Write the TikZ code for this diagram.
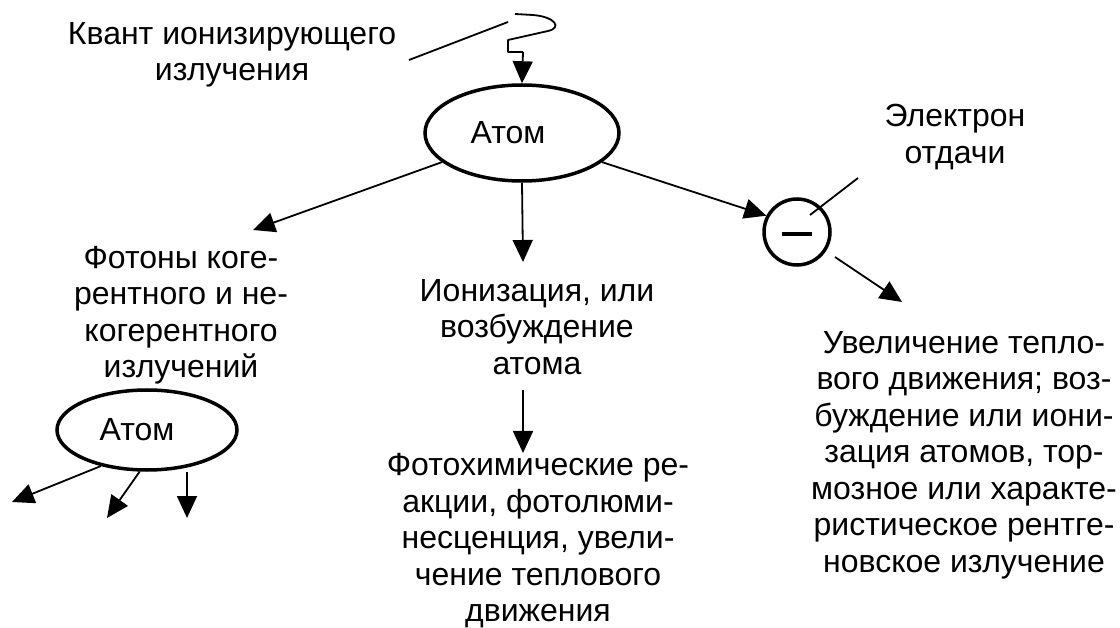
\documentclass[tikz,border=0pt]{standalone}
\usepackage{fontspec}
\setmainfont{Liberation Sans}
\usetikzlibrary{shapes.geometric,arrows.meta}
\begin{document}
\begin{tikzpicture}[x=1pt,y=-1pt,
  lbl/.style={align=center,inner sep=0pt,font=\fontsize{32}{36.5}\selectfont},
  atomnode/.style={ellipse,draw,line width=3.5pt,inner sep=0pt,font=\fontsize{32}{36.5}\selectfont},
  conn/.style={line width=1.8pt},
  arr/.style={line width=1.8pt,-{Triangle[length=22pt,width=20pt]}}]
\useasboundingbox (0,0) rectangle (1120,628);

% atoms and the recoil electron
\node[atomnode,minimum width=194pt,minimum height=96pt] (atom) at (522,133) {Атом\hspace*{28pt}};
\node[atomnode,minimum width=180pt,minimum height=80pt] (atom2) at (147,430) {Атом\hspace*{20pt}};
\node[circle,draw,line width=3.5pt,minimum size=66pt,inner sep=0pt] (el) at (797,232) {};

% texts
\node[lbl] (quant) at (232,55) {Квант ионизирующего\\излучения};
\node[lbl] (elout) at (955,137) {Электрон\\отдачи};
\node[lbl] (phot) at (181,315) {Фотоны коге-\\рентного и не-\\когерентного\\излучений};
\node[lbl] (ion) at (537,327) {Ионизация, или\\возбуждение\\атома};
\node[lbl] (chem) at (538,541) {Фотохимические ре-\\акции, фотолюми-\\несценция, увели-\\чение теплового\\движения};
\node[lbl] (heat) at (964,455) {Увеличение тепло-\\вого движения; воз-\\буждение или иони-\\зация атомов, тор-\\мозное или характе-\\ристическое рентге-\\новское излучение};

% minus sign of the electron
\draw[line width=4pt] ([xshift=-15pt,yshift=-2pt]el.center) -- ([xshift=15pt,yshift=-2pt]el.center);

% incoming quantum (wavy mark) and its pointer
\coordinate (qtop) at (515,14);
\coordinate (qbend) at (523,52);
\draw[conn,line join=round] (qtop) -- (533,15) .. controls (556,17) and (562,28) .. (548,31)
   -- (508,40) -- (508,52) -- (qbend);
\draw[arr] (qbend) -- (atom.north);
\coordinate (qline) at (409,60);
\draw[conn] (qline) -- (508,22);

% branches from the atom
\coordinate (tpA) at (253,230);
\coordinate (tpB) at (523,262);
\draw[arr] (atom.200) -- (tpA);
\draw[arr] (atom.south) -- (tpB);
\draw[arr] (atom.-20) -- (el.152);

% electron
\coordinate (elA) at (858,178);
\draw[conn] ([shift={(13pt,17pt)}]el.center) -- (elA);
\coordinate (elB) at (902,302);
\draw[arr] ([shift={(38pt,-25pt)}]el.center) -- (elB);

% ionisation consequences
\coordinate (ionB) at (523,390);
\coordinate (tpC) at (523,453);
\draw[arr] (ionB) -- (tpC);

% secondary atom
\coordinate (s1) at (12,502);
\coordinate (s2) at (107,518);
\coordinate (s3) at (187,518);
\draw[arr] (atom2.218) -- (s1);
\draw[arr] (atom2.260) -- (s2);
\draw[arr] (atom2.south -| s3) -- (s3);
\end{tikzpicture}
\end{document}
